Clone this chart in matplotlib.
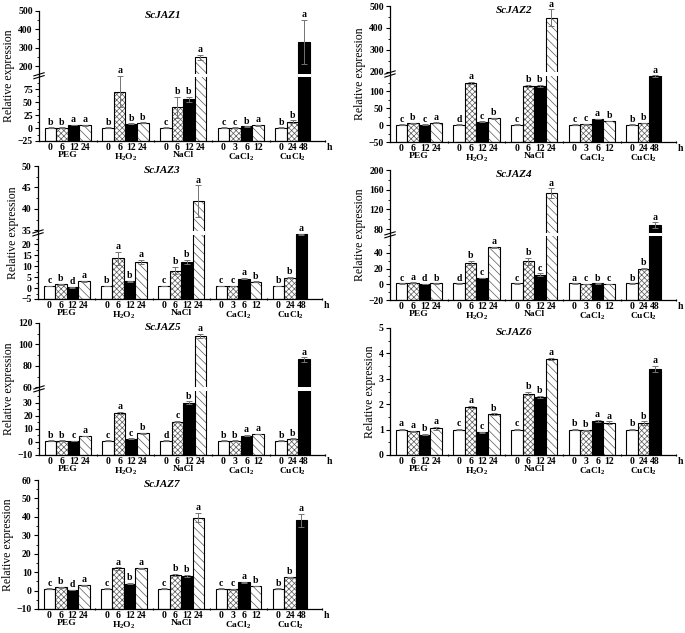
import numpy as np
import matplotlib
matplotlib.use('Agg')
from matplotlib import pyplot as plt
from matplotlib import transforms

plt.rcParams['font.family'] = 'Liberation Serif'
plt.rcParams['font.weight'] = 'bold'
plt.rcParams['mathtext.fontset'] = 'custom'
plt.rcParams['mathtext.rm'] = 'Liberation Serif:bold'
plt.rcParams['mathtext.bf'] = 'Liberation Serif:bold'
plt.rcParams['mathtext.it'] = 'Liberation Serif:bold:italic'
plt.rcParams['hatch.linewidth'] = 0.5

# Treatments and sampling times (h)
groups = ['PEG', 'H$_2$O$_2$', 'NaCl', 'CaCl$_2$', 'CuCl$_2$']
times = [['0', '6', '12', '24'], ['0', '6', '12', '24'], ['0', '6', '12', '24'],
         ['0', '3', '6', '12'], ['0', '24', '48']]

# Relative expression, error and significance letters
jaz1_val = [1, 1, 6, 5, 1, 70, 8, 10, 1, 40, 55, 248, 1, 1, 3, 5, 1, 12, 330]
jaz1_err = [0.5, 0.5, 0.5, 0.5, 0.5, 30, 1, 1, 0.5, 20, 5, 12, 0.5, 0.5, 0.5, 0.5, 0.5, 3, 120]
jaz1_sig = 'b b a a b a b b c b b a c c b a b b a'.split()

jaz2_val = [1, 5, 1, 7, 1, 125, 10, 20, 1, 117, 117, 447, 1, 2, 18, 12, 1, 6, 146]
jaz2_err = [1, 1, 1, 1, 1, 3, 1, 1, 1, 3, 3, 38, 1, 1, 1, 1, 1, 1, 2]
jaz2_sig = 'c b c a d a c b c b b a c c a b b b a'.split()

jaz3_val = [1, 1.8, 0.3, 3, 1, 13.5, 3, 12, 1, 8, 12, 41.8, 1, 1, 4.3, 2.8, 1, 4.8, 24.6]
jaz3_err = [0.1, 0.2, 0.1, 0.2, 0.1, 3, 0.2, 0.8, 0.1, 1.7, 0.8, 3.7, 0.1, 0.1, 0.3, 0.2, 0.1, 0.4, 0.2]
jaz3_sig = 'c b d a b a b a c b b a c c a b b b a'.split()

jaz4_val = [1, 2, 0.5, 1, 1, 27, 8, 47, 1, 29, 12, 153, 1, 0.5, 1, 0.5, 1, 20, 88]
jaz4_err = [0.3, 0.3, 0.3, 0.3, 0.3, 3, 0.5, 1, 0.3, 5, 2, 10, 0.3, 0.3, 0.3, 0.3, 0.3, 1, 6]
jaz4_sig = 'c a d b d b c a c b c a a c b c b b a'.split()

jaz5_val = [1, 1, 0.5, 4.5, 1, 22, 2.5, 6.5, 1, 15.5, 30, 108, 1, 1, 4.8, 6, 1, 2.5, 86]
jaz5_err = [0.2, 0.2, 0.2, 0.3, 0.2, 0.8, 0.3, 0.4, 0.2, 0.6, 0.8, 2, 0.2, 0.2, 0.3, 0.3, 0.2, 0.3, 2]
jaz5_sig = 'b b c a c a c b d c b a b b a a b b a'.split()

jaz6_val = [1.0, 0.93, 0.8, 1.05, 1.0, 1.9, 0.9, 1.6, 1.0, 2.42, 2.28, 3.78,
            1.0, 0.97, 1.33, 1.27, 1.0, 1.25, 3.38]
jaz6_err = [0.02, 0.03, 0.03, 0.05, 0.02, 0.03, 0.02, 0.04, 0.02, 0.06, 0.05, 0.05,
            0.02, 0.03, 0.05, 0.05, 0.02, 0.07, 0.12]
jaz6_sig = 'a a b a c a c b c b b a b b a a b b a'.split()

jaz7_val = [1, 1.8, 0.3, 2.8, 1, 12, 3.8, 12, 1, 8.5, 8, 39.5, 1, 0.7, 4.5, 2.5, 1, 7.2, 38.2]
jaz7_err = [0.2, 0.2, 0.2, 0.2, 0.2, 0.6, 0.3, 0.5, 0.2, 0.4, 0.4, 2.5, 0.2, 0.2, 0.3, 0.2, 0.2, 0.4, 3.5]
jaz7_sig = 'c b d a c a b a c b b a c c a b b b a'.split()


def piecewise(xp, fp):
    xp = np.asarray(xp, float)
    fp = np.asarray(fp, float)

    def f(v):
        v = np.asarray(v, float)
        out = np.interp(v, xp, fp)
        out = np.where(v < xp[0], fp[0] + (v - xp[0]) * (fp[1] - fp[0]) / (xp[1] - xp[0]), out)
        out = np.where(v > xp[-1], fp[-1] + (v - xp[-1]) * (fp[-1] - fp[-2]) / (xp[-1] - xp[-2]), out)
        return out
    return f


# bar positions: 4 (or 3) bars per treatment, one empty slot between treatments
xpos, tick_lab, style = [], [], []
for g, tl in enumerate(times):
    for i, t in enumerate(tl):
        xpos.append(5 * g + i)
        tick_lab.append(t)
        style.append(i)
xpos = np.array(xpos)

W, H = 685, 633
fig = plt.figure(figsize=(W / 100, H / 100), dpi=100)


def panel(box, title, vals, errs, sigs, lim, major, minor, brk=None):
    l, r, t, b = box
    ax = fig.add_axes([l / W, 1 - b / H, (r - l) / W, (b - t) / H])
    if brk is not None:
        ymin, b1, b2, ymax, f1, f2 = brk
        ax.set_yscale('function', functions=(piecewise([ymin, b1, b2, ymax], [0, f1, f2, 1]),
                                             piecewise([0, f1, f2, 1], [ymin, b1, b2, ymax])))
    ax.set_xlim(-1.0, 23.8)
    ax.set_ylim(*lim)
    base = lim[0]  # bars rise from the bottom of the axis

    vals = np.array(vals, float)
    for x, v, s in zip(xpos, vals, style):
        h = v - base
        if s == 0:
            ax.bar(x, h, 1.0, bottom=base, color='white', edgecolor='black', lw=0.8, zorder=1)
        elif s == 2:
            ax.bar(x, h, 1.0, bottom=base, color='black', edgecolor='black', lw=0.8, zorder=1)
        else:
            hatch = 'xxxxxx' if s == 1 else '\\\\\\\\'
            ax.bar(x, h, 1.0, bottom=base, color='white', edgecolor='0.35', lw=0, hatch=hatch, zorder=1)
            ax.bar(x, h, 1.0, bottom=base, fill=False, edgecolor='black', lw=0.8, zorder=1.1)
    ax.errorbar(xpos, vals, yerr=errs, fmt='none', ecolor='0.45', elinewidth=0.7,
                capsize=2, capthick=0.7, zorder=1.5)
    for x, v, e, s in zip(xpos, vals, errs, sigs):
        ax.annotate(s, (x, v + e), xytext=(0, 0.5), textcoords='offset points',
                    ha='center', va='bottom', fontsize=7)

    if brk is not None:
        tr = transforms.blended_transform_factory(ax.transData, ax.transAxes)
        mid = (f1 + f2) / 2
        for x, v in zip(xpos, vals):
            if v > b2:
                ax.add_patch(plt.Rectangle((x - 0.56, mid - 0.013), 1.12, 0.026,
                                           transform=tr, color='white', lw=0, zorder=2.2))
        for dy in (-0.011, 0.011):
            ax.plot([-0.018, 0.018], [mid + dy - 0.012, mid + dy + 0.012], transform=ax.transAxes,
                    color='black', lw=0.8, clip_on=False, zorder=3)

    ax.set_yticks(major)
    ax.set_yticks(minor, minor=True)
    ax.set_xticks(xpos)
    ax.set_xticklabels(tick_lab)
    ax.set_xticks([4, 9, 14, 19, 23.8], minor=True)
    ax.tick_params(axis='x', which='major', length=0, pad=1.5, labelsize=7)
    ax.tick_params(axis='x', which='minor', length=2, direction='inout', width=0.8)
    ax.tick_params(axis='y', which='major', length=3, width=0.8, pad=1.5, labelsize=7)
    ax.tick_params(axis='y', which='minor', length=1.5, width=0.6)
    for sp in ('top', 'right'):
        ax.spines[sp].set_visible(False)
    for sp in ('left', 'bottom'):
        ax.spines[sp].set_linewidth(0.9)

    for g, name in enumerate(groups):
        c = 5 * g + (len(times[g]) - 1) / 2
        ax.annotate(name, (c, 0), xycoords=('data', 'axes fraction'), xytext=(0, -7.5),
                    textcoords='offset points', ha='center', va='top', fontsize=6.8)
    ax.annotate('h', (1, 0), xycoords='axes fraction', xytext=(1, -1.5),
                textcoords='offset points', ha='left', va='top', fontsize=7)
    ax.text(9.8, 0.965, title, transform=transforms.blended_transform_factory(ax.transData, ax.transAxes),
            ha='center', va='center', fontsize=8, style='italic')
    ax.set_ylabel('Relative expression', fontsize=8.5, labelpad=2)
    return ax


panel((39, 325, 11, 141), 'ScJAZ1', jaz1_val, jaz1_err, jaz1_sig, (-25, 500),
      [-25, 0, 25, 50, 75, 200, 300, 400, 500], [-12.5, 12.5, 37.5, 62.5, 87.5, 250, 350, 450],
      brk=(-25, 100, 150, 500, 0.499, 0.505))
panel((390, 676, 6, 142), 'ScJAZ2', jaz2_val, jaz2_err, jaz2_sig, (-50, 500),
      [-50, 0, 50, 100, 200, 300, 400, 500], [-25, 25, 75, 125, 250, 350, 450],
      brk=(-50, 150, 192, 500, 0.496, 0.504))
panel((38, 322, 166, 299), 'ScJAZ3', jaz3_val, jaz3_err, jaz3_sig, (-5, 50),
      [-5, 0, 5, 10, 15, 20, 35, 40, 45, 50], [-2.5, 2.5, 7.5, 12.5, 17.5, 22.5, 37.5, 42.5, 47.5],
      brk=(-5, 25, 34.5, 50, 0.494, 0.500))
panel((390, 676, 170, 300), 'ScJAZ4', jaz4_val, jaz4_err, jaz4_sig, (-20, 200),
      [-20, 0, 20, 40, 80, 120, 160, 200], [-10, 10, 30, 50, 100, 140, 180],
      brk=(-20, 62, 70, 200, 0.496, 0.507))
panel((39, 325, 323, 455), 'ScJAZ5', jaz5_val, jaz5_err, jaz5_sig, (-10, 120),
      [-10, 0, 10, 20, 30, 60, 80, 100, 120], [-5, 5, 15, 25, 35, 70, 90, 110],
      brk=(-10, 40, 59, 120, 0.497, 0.505))
panel((390, 676, 328, 455), 'ScJAZ6', jaz6_val, jaz6_err, jaz6_sig, (0, 5),
      [0, 1, 2, 3, 4, 5], [0.5, 1.5, 2.5, 3.5, 4.5])
panel((38, 322, 480, 609), 'ScJAZ7', jaz7_val, jaz7_err, jaz7_sig, (-10, 60),
      [-10, 0, 10, 20, 30, 40, 50, 60], [-5, 5, 15, 25, 35, 45, 55])

fig.savefig('out.png', dpi=100)
